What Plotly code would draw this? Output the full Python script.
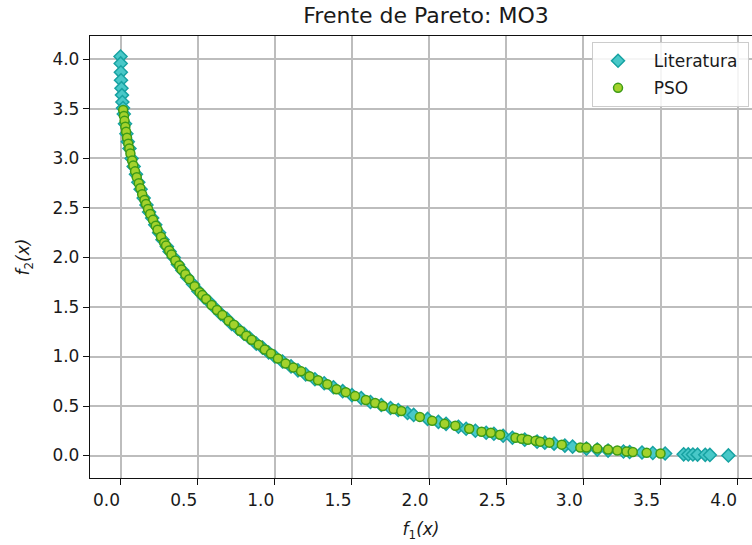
import plotly.graph_objects as go

# ---- data ----
lit_f1 = [0.000, 0.001, 0.002, 0.003, 0.006, 0.009, 0.012, 0.016, 0.021, 0.029,
          0.038, 0.047, 0.058, 0.072, 0.085, 0.100, 0.115, 0.130, 0.150, 0.168,
          0.185, 0.205, 0.225, 0.250, 0.272, 0.300, 0.318, 0.345, 0.372, 0.400,
          0.432, 0.470, 0.505, 0.540, 0.575, 0.605, 0.650, 0.690, 0.720, 0.760,
          0.800, 0.835, 0.880, 0.920, 0.960, 1.000, 1.050, 1.105, 1.150, 1.200,
          1.260, 1.320, 1.380, 1.440, 1.500, 1.560, 1.620, 1.690, 1.750, 1.800,
          1.860, 1.900, 1.990, 2.060, 2.110, 2.190, 2.240, 2.300, 2.370, 2.420,
          2.480, 2.540, 2.620, 2.700, 2.750, 2.810, 2.880, 2.930, 3.020, 3.090,
          3.160, 3.260, 3.300, 3.380, 3.450, 3.530, 3.650, 3.680, 3.710, 3.740,
          3.790, 3.820, 3.940]
lit_f2 = [4.03, 3.96, 3.87, 3.79, 3.71, 3.64, 3.57, 3.51, 3.45, 3.35,
          3.25, 3.17, 3.10, 3.00, 2.92, 2.84, 2.76, 2.69, 2.60, 2.53,
          2.46, 2.40, 2.33, 2.25, 2.18, 2.11, 2.06, 2.00, 1.93, 1.87,
          1.80, 1.73, 1.66, 1.60, 1.55, 1.50, 1.43, 1.38, 1.33, 1.28,
          1.23, 1.19, 1.13, 1.09, 1.04, 1.00, 0.95, 0.90, 0.86, 0.82,
          0.77, 0.73, 0.69, 0.65, 0.61, 0.58, 0.54, 0.51, 0.48, 0.46,
          0.43, 0.41, 0.37, 0.34, 0.32, 0.29, 0.27, 0.25, 0.23, 0.22,
          0.20, 0.18, 0.16, 0.14, 0.13, 0.12, 0.10, 0.09, 0.07, 0.06,
          0.05, 0.04, 0.035, 0.03, 0.025, 0.02, 0.012, 0.011, 0.010, 0.009,
          0.007, 0.006, 0.001]

pso_f1 = [0.017, 0.022, 0.026, 0.031, 0.036, 0.042, 0.050, 0.057, 0.064, 0.075,
          0.083, 0.094, 0.105, 0.118, 0.128, 0.140, 0.155, 0.165, 0.178, 0.192,
          0.210, 0.228, 0.240, 0.262, 0.283, 0.295, 0.315, 0.330, 0.355, 0.380,
          0.395, 0.420, 0.445, 0.480, 0.512, 0.530, 0.555, 0.590, 0.625, 0.660,
          0.700, 0.735, 0.775, 0.815, 0.850, 0.895, 0.935, 0.975, 1.020, 1.070,
          1.120, 1.170, 1.225, 1.280, 1.340, 1.400, 1.460, 1.520, 1.590, 1.650,
          1.700, 1.770, 1.820, 1.940, 2.020, 2.100, 2.170, 2.260, 2.340, 2.400,
          2.460, 2.560, 2.600, 2.640, 2.690, 2.720, 2.780, 2.860, 2.980, 3.020,
          3.090, 3.160, 3.220, 3.280, 3.320, 3.410, 3.500]
pso_f2 = [3.49, 3.43, 3.38, 3.32, 3.27, 3.21, 3.15, 3.10, 3.05, 2.98,
          2.93, 2.87, 2.81, 2.75, 2.70, 2.64, 2.58, 2.54, 2.49, 2.44,
          2.38, 2.32, 2.28, 2.21, 2.15, 2.12, 2.07, 2.03, 1.97, 1.92,
          1.88, 1.83, 1.78, 1.71, 1.65, 1.62, 1.58, 1.52, 1.47, 1.42,
          1.36, 1.32, 1.26, 1.21, 1.17, 1.12, 1.07, 1.03, 0.98, 0.93,
          0.89, 0.85, 0.80, 0.76, 0.72, 0.67, 0.64, 0.60, 0.56, 0.53,
          0.50, 0.47, 0.45, 0.39, 0.35, 0.32, 0.30, 0.27, 0.24, 0.23,
          0.21, 0.18, 0.17, 0.16, 0.15, 0.14, 0.13, 0.11, 0.08, 0.08,
          0.07, 0.06, 0.05, 0.04, 0.035, 0.027, 0.02]

x_ticks = [0.0, 0.5, 1.0, 1.5, 2.0, 2.5, 3.0, 3.5, 4.0]
y_ticks = [0.0, 0.5, 1.0, 1.5, 2.0, 2.5, 3.0, 3.5, 4.0]

FONT = "DejaVu Sans"
TXT = "#1a1a1a"

fig = go.Figure()
fig.add_trace(go.Scatter(
    x=lit_f1, y=lit_f2, mode="markers", name="\u00a0\u00a0Literatura\u00a0",
    legendgroup="a",
    marker=dict(symbol="diamond", size=10, color="#48c8c8",
                line=dict(color="#17a2a2", width=1.5))))
fig.add_trace(go.Scatter(
    x=pso_f1, y=pso_f2, mode="markers", name="\u00a0\u00a0PSO", legendgroup="b",
    marker=dict(symbol="circle", size=9, color="#a4d22c",
                line=dict(color="#3d9b16", width=1.5))))

axis_common = dict(
    showgrid=True, gridcolor="#bdbdbd", gridwidth=1.5, zeroline=False,
    showline=True, linecolor="#111111", linewidth=1.3,
    ticks="outside", ticklen=6, tickwidth=1.3, tickcolor="#111111",
    tickfont=dict(family=FONT, size=17, color=TXT),
)

fig.update_layout(
    width=752, height=545,
    margin=dict(l=90, r=0, t=36, b=67, autoexpand=False),
    paper_bgcolor="white", plot_bgcolor="white",
    hovermode=False,
    title=dict(text="Frente de Pareto: MO3", x=0.5665, xanchor="center",
               y=0.9725, yanchor="middle",
               font=dict(family=FONT, size=22, color=TXT)),
    xaxis=dict(range=[-0.198, 4.093], tickvals=x_ticks,
               ticktext=[f"{v:.1f}" for v in x_ticks], mirror=True,
               ticklabelshift=-14,
               title=dict(text="<i>f</i><sub>1</sub><i>(x)</i>", standoff=14,
                          font=dict(family=FONT, size=17, color=TXT)),
               **axis_common),
    yaxis=dict(range=[-0.227, 4.237], tickvals=y_ticks,
               ticktext=[f"{v:.1f}" for v in y_ticks], mirror=False,
               title=dict(text="<i>f</i><sub>2</sub><i>(x)</i>", standoff=18,
                          font=dict(family=FONT, size=17, color=TXT)),
               **axis_common),
    legend=dict(x=0.9955, xanchor="right", y=0.986, yanchor="top",
                bgcolor="rgba(255,255,255,0.85)", bordercolor="#cccccc",
                borderwidth=1, tracegroupgap=2, itemwidth=40,
                font=dict(family=FONT, size=17, color=TXT)),
    showlegend=True,
)

# remove the page's default 8px body margin so the figure sits at the window corner
fig.write_html("out.html",
               config={"displayModeBar": False},
               post_script="document.body.style.margin='0px';")
